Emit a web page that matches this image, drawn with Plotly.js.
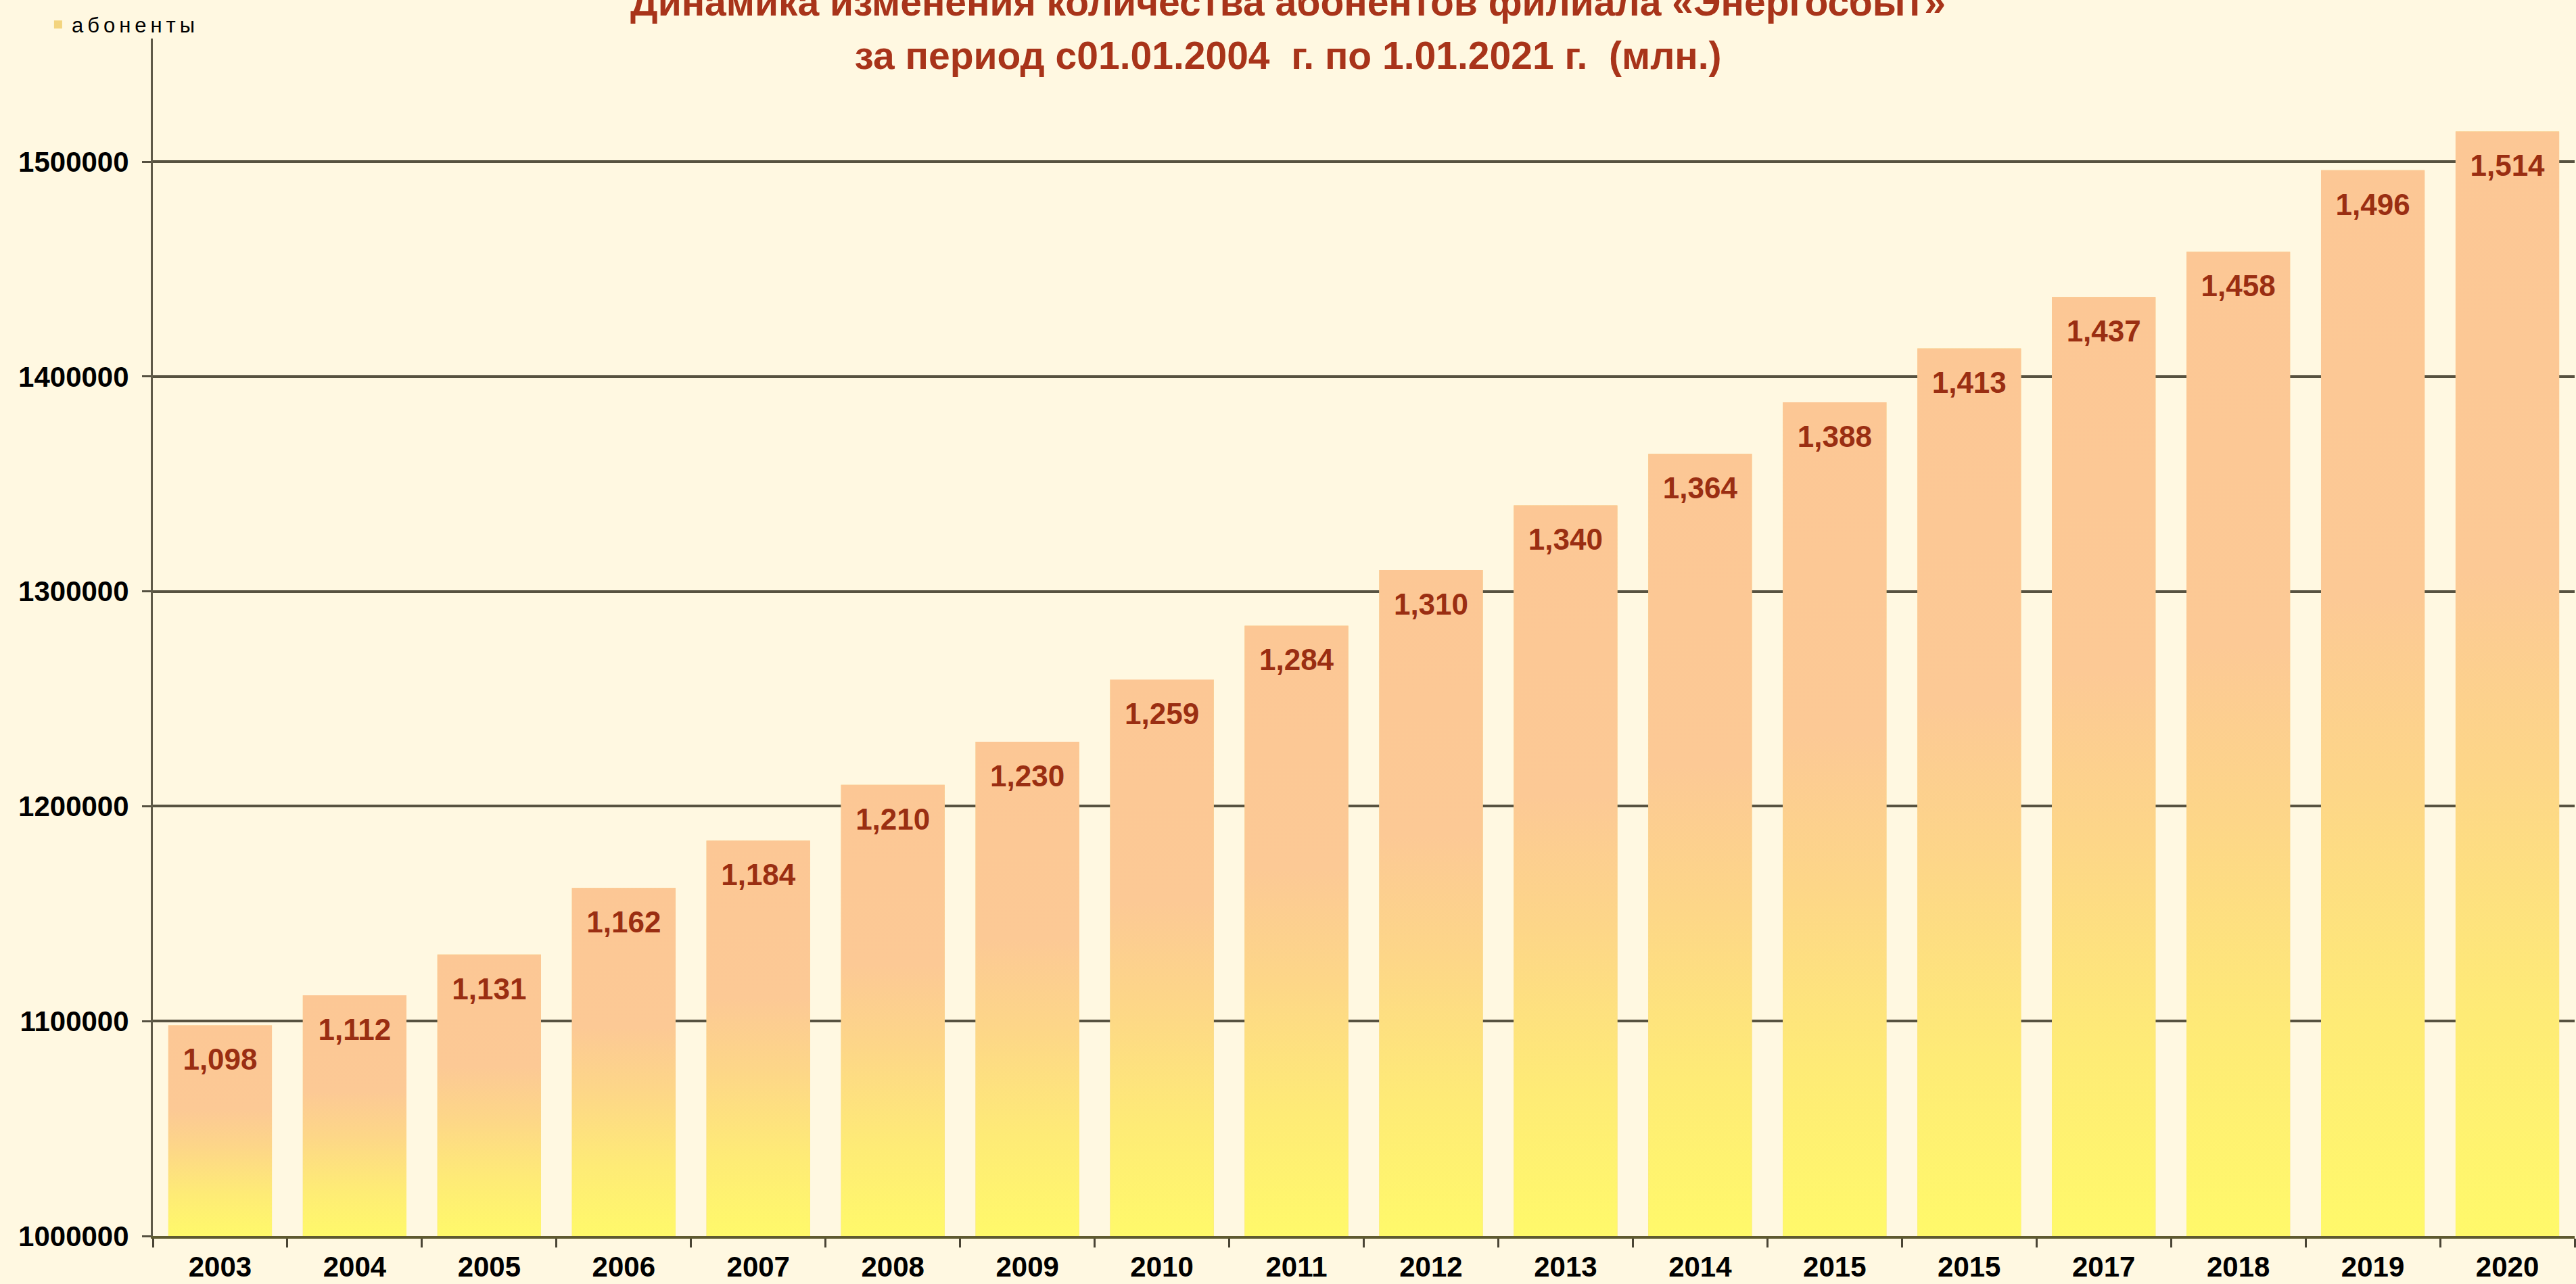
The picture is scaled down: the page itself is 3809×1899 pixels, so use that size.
<!DOCTYPE html>
<html>
<head>
<meta charset="utf-8">
<script src="https://cdn.plot.ly/plotly-3.0.1.min.js"></script>
<style>
html, body { margin: 0; padding: 0; background: #FFF8E1; }
.legendtext { letter-spacing: 6px; }
</style>
</head>
<body>
<div id="chart" style="width:3809px;height:1899px;"></div>
<script>
// ---- data ----
const years = ['2003', '2004', '2005', '2006', '2007', '2008', '2009', '2010', '2011',
               '2012', '2013', '2014', '2015', '2015', '2017', '2018', '2019', '2020'];
const subscribers = [1098000, 1112000, 1131000, 1162000, 1184000, 1210000, 1230000, 1259000, 1284000,
                     1310000, 1340000, 1364000, 1388000, 1413000, 1437000, 1458000, 1496000, 1514000];
const seriesName = 'абоненты';
const titleLine1 = 'Динамика изменения количества абонентов филиала «Энергосбыт»';
const titleLine2 = 'за период с01.01.2004\u00a0 г. по 1.01.2021 г.\u00a0 (млн.)';

// ---- derived helpers ----
const positions = years.map((_, i) => i);
const labels = subscribers.map(v => (v / 1e6).toFixed(3).replace('.', ','));
const barWidth = 0.77;
const axisBase = 1000000;

const FONT = 'Liberation Sans, Arial, sans-serif';

const barTrace = {
  type: 'bar',
  name: seriesName,
  x: positions,
  y: subscribers,
  width: barWidth,
  marker: { color: '#F3D47E', line: { width: 0 } },
  hoverinfo: 'skip'
};

// vertical gradient fill for each bar (yellow at the bottom, peach at the top)
const gradientTraces = subscribers.map((v, i) => {
  const x0 = positions[i] - barWidth / 2, x1 = positions[i] + barWidth / 2;
  return {
    type: 'scatter',
    mode: 'none',
    x: [x0, x0, x1, x1, x0],
    y: [axisBase, v, v, axisBase, axisBase],
    fill: 'toself',
    fillgradient: {
      type: 'vertical',
      colorscale: [[0, '#FFF96A'], [0.2, '#FEEB76'], [0.42, '#FDD688'], [0.6, '#FCC995'], [1, '#FCC795']]
    },
    showlegend: false,
    hoverinfo: 'skip'
  };
});

const labelTrace = {
  type: 'scatter',
  mode: 'markers+text',
  x: positions,
  y: subscribers,
  text: labels,
  textposition: 'bottom center',
  marker: { size: 51, opacity: 0 },
  textfont: { family: FONT, size: 44, color: '#9A2E12', weight: 'bold' },
  showlegend: false,
  hoverinfo: 'skip',
  cliponaxis: false
};

const tickFont = { family: FONT, size: 42, color: '#000000', weight: 'bold' };

const layout = {
  width: 3809,
  height: 1899,
  paper_bgcolor: '#FFF8E1',
  plot_bgcolor: '#FFF8E1',
  margin: { l: 226, r: 2, t: 57, b: 71, pad: 0, autoexpand: false },
  title: {
    text: '<span style="font-size:57px">' + titleLine1 + '</span><br><span style="font-size:57px">' + titleLine2 + '</span>',
    font: { family: FONT, size: 61, color: '#A8341A', weight: 'bold' },
    x: 0.5, xref: 'container', xanchor: 'center',
    y: 0.988, yref: 'container', yanchor: 'bottom'
  },
  showlegend: true,
  legend: {
    x: 0.0173, xref: 'container', xanchor: 'left',
    y: 0.995, yref: 'container', yanchor: 'top',
    font: { family: FONT, size: 31, color: '#000000' },
    bgcolor: 'rgba(0,0,0,0)'
  },
  xaxis: {
    range: [-0.5, 17.5],
    tickmode: 'array',
    tickvals: positions,
    ticktext: years,
    ticks: '',
    showline: true, linecolor: '#5F5A30', linewidth: 4,
    showgrid: false, zeroline: false,
    tickfont: tickFont,
    ticklabelstandoff: 6,
    automargin: false,
    minor: { tickmode: 'linear', tick0: -0.5, dtick: 1, ticks: 'outside', ticklen: 13, tickwidth: 3, tickcolor: '#4A4535', showgrid: false },
    fixedrange: true
  },
  yaxis: {
    range: [1000000, 1557300],
    tickmode: 'linear', tick0: 1000000, dtick: 100000,
    tickformat: 'd',
    ticks: 'outside', ticklen: 13, tickwidth: 3, tickcolor: '#555040',
    showgrid: true, gridcolor: '#575240', gridwidth: 4,
    showline: true, linecolor: '#5F5A48', linewidth: 3,
    zeroline: false,
    tickfont: tickFont,
    ticklabelstandoff: 11,
    automargin: false,
    fixedrange: true
  },
  bargap: 0.23
};

Plotly.newPlot('chart', [barTrace].concat(gradientTraces, [labelTrace]), layout, { displayModeBar: false, staticPlot: true });
</script>
</body>
</html>
